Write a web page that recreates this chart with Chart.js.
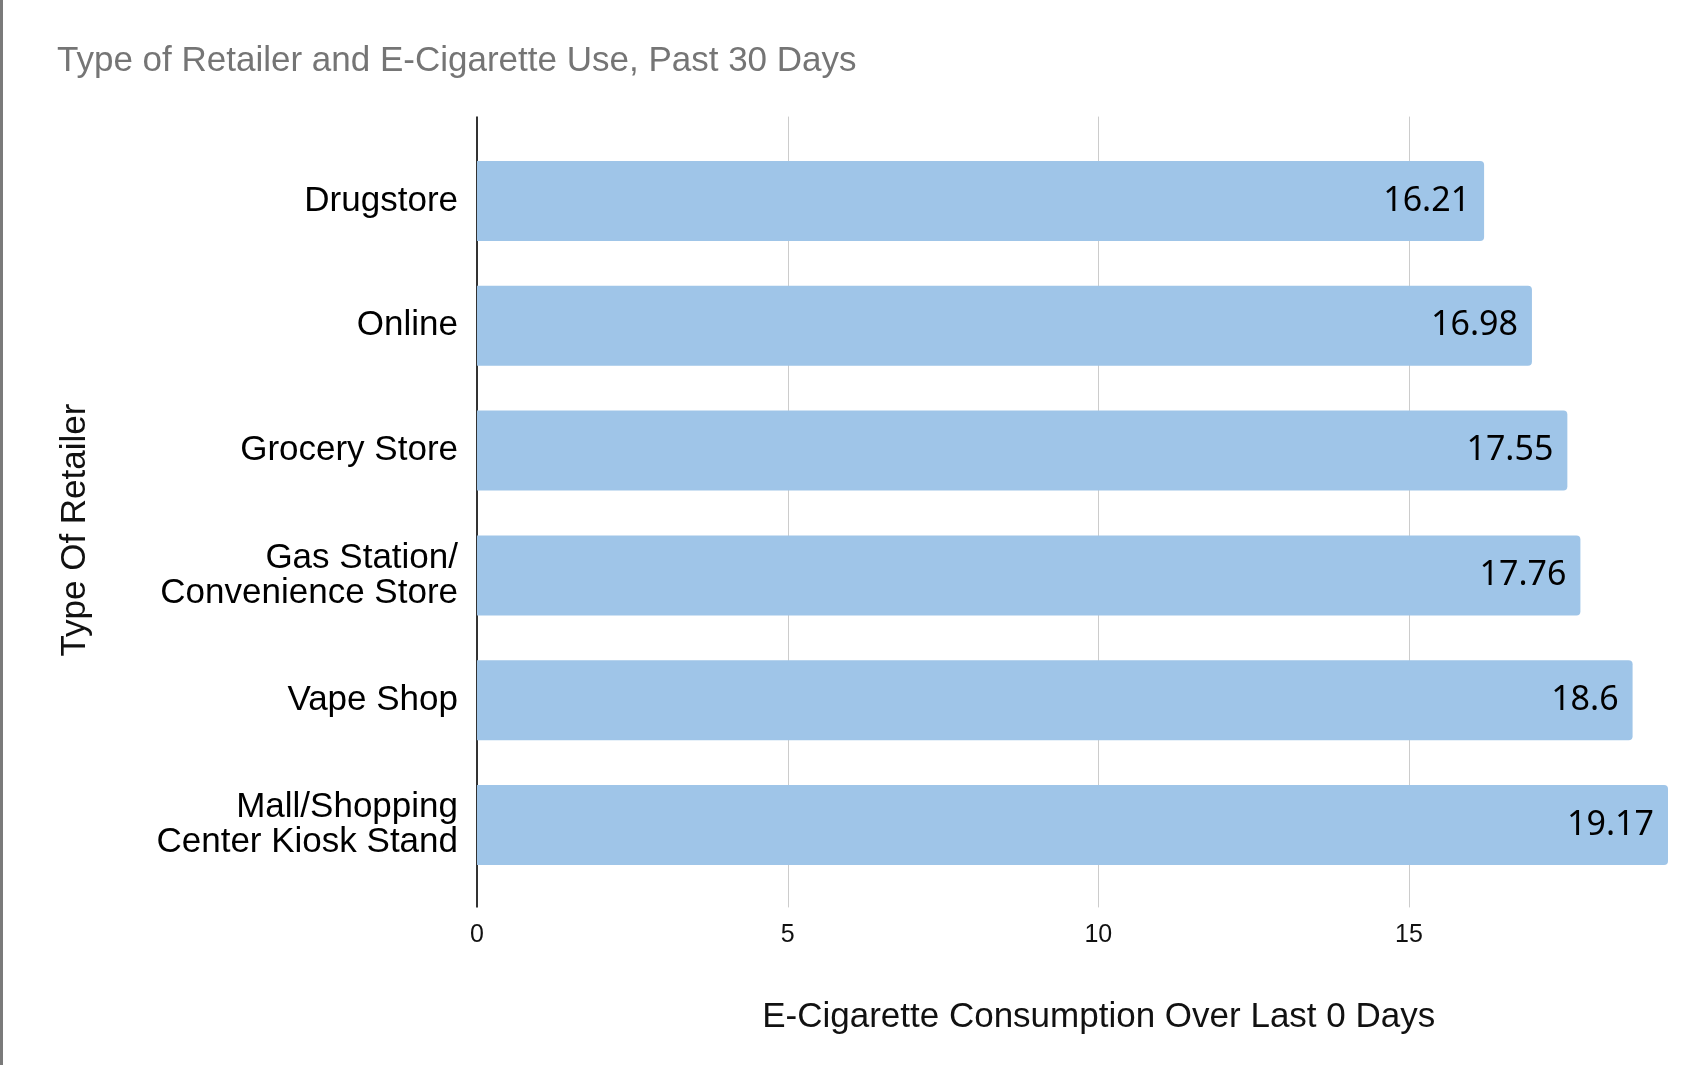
<!DOCTYPE html>
<html><head><meta charset="utf-8">
<script src="https://cdn.jsdelivr.net/npm/chart.js@4.4.1/dist/chart.umd.min.js"></script>
<style>
html,body{margin:0;padding:0;background:#fff;overflow:hidden}
#wrap{position:relative;width:1698px;height:1065px}
#edge{position:absolute;left:0;top:0;width:3px;height:1065px;background:#7a7a7a}
canvas{display:block}
</style></head><body>
<div id="wrap"><canvas id="c" width="1698" height="1065"></canvas><div id="edge"></div></div>
<script>
const chartTitle = 'Type of Retailer and E-Cigarette Use, Past 30 Days';
const categories = ['Drugstore', 'Online', 'Grocery Store', ['Gas Station/', 'Convenience Store'], 'Vape Shop', ['Mall/Shopping', 'Center Kiosk Stand']];
const values = [16.21, 16.98, 17.55, 17.76, 18.6, 19.17];
const xTicks = [0, 5, 10, 15];
const xAxisTitle = 'E-Cigarette Consumption Over Last 0 Days';
const yAxisTitle = 'Type Of Retailer';

const FAM = '"Liberation Sans", Arial, sans-serif';
Chart.defaults.font.family = FAM;

const gridPlugin = {
  id: 'gridExt',
  beforeDatasetsDraw(chart) {
    const {ctx, chartArea: a, scales: {x}} = chart;
    ctx.save();
    xTicks.forEach(v => {
      const zero = v === 0;
      const px = Math.round(x.getPixelForValue(v)) + (zero ? 0 : 0.5);
      ctx.strokeStyle = zero ? '#333333' : '#cccccc';
      ctx.lineWidth = zero ? 2 : 1;
      ctx.beginPath();
      ctx.moveTo(px, a.top - 22);
      ctx.lineTo(px, a.bottom + 20);
      ctx.stroke();
    });
    ctx.restore();
  }
};

const valueLabelPlugin = {
  id: 'valueLabels',
  afterDatasetsDraw(chart) {
    const {ctx} = chart;
    const meta = chart.getDatasetMeta(0);
    ctx.save();
    ctx.font = '34px "Noto Sans", "Open Sans", sans-serif';
    ctx.fillStyle = '#000000';
    ctx.textAlign = 'right';
    ctx.textBaseline = 'middle';
    meta.data.forEach((el, i) => {
      ctx.fillText(String(values[i]), el.x - 14, el.y);
    });
    ctx.restore();
  }
};

const axisTitlePlugin = {
  id: 'axisTitles',
  afterDraw(chart) {
    const {ctx, chartArea: a} = chart;
    ctx.save();
    ctx.font = '35px ' + FAM;
    ctx.fillStyle = '#111111';
    ctx.textAlign = 'center';
    ctx.textBaseline = 'middle';
    ctx.fillText(xAxisTitle, a.left + (a.right - a.left) * 0.522, chart.height - 48);
    ctx.translate(75, (a.top + a.bottom) / 2 + 17);
    ctx.rotate(-Math.PI / 2);
    ctx.fillText(yAxisTitle, 0, 0);
    ctx.restore();
  }
};

new Chart(document.getElementById('c'), {
  type: 'bar',
  data: {
    labels: categories,
    datasets: [{
      data: values,
      backgroundColor: '#9fc5e8',
      borderRadius: 4,
      barPercentage: 0.641,
      categoryPercentage: 1
    }]
  },
  options: {
    indexAxis: 'y',
    responsive: false,
    animation: false,
    devicePixelRatio: 1,
    layout: {padding: {left: 57, right: 30, top: 0, bottom: 0}},
    plugins: {
      legend: {display: false},
      tooltip: {enabled: false},
      title: {
        display: true, text: chartTitle, align: 'start', color: '#757575',
        font: {size: 35, weight: 'normal', lineHeight: 1.2},
        padding: {top: 40.5, bottom: 56.1}
      }
    },
    scales: {
      x: {
        min: 0, max: Math.max(...values),
        grid: {display: false, drawTicks: false},
        border: {display: false},
        afterBuildTicks: s => { s.ticks = xTicks.map(v => ({value: v})); },
        afterFit: s => { s.height = 177.6; },
        ticks: {padding: 33, font: {size: 25}, color: '#111111', autoSkip: false, maxRotation: 0}
      },
      y: {
        grid: {display: false, drawTicks: false},
        border: {display: false},
        afterFit: s => { s.width = 420; },
        ticks: {padding: 19, font: {size: 35, lineHeight: 1.0}, color: '#000000', autoSkip: false}
      }
    }
  },
  plugins: [gridPlugin, valueLabelPlugin, axisTitlePlugin]
});
</script>
</body></html>
